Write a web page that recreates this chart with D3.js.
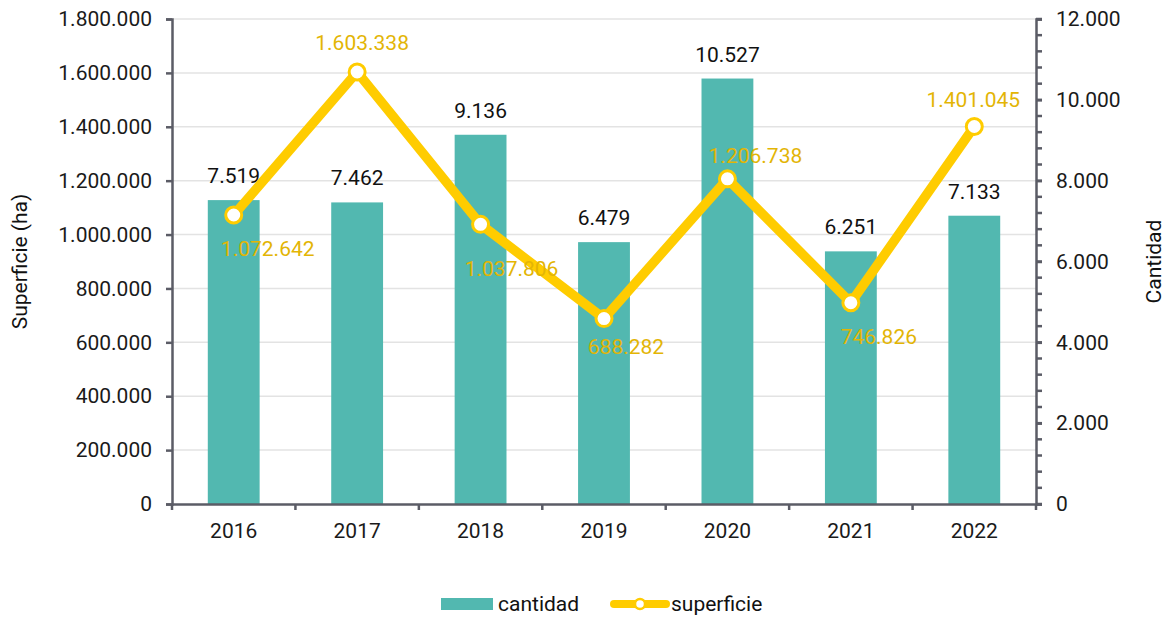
<!DOCTYPE html>
<html>
<head>
<meta charset="utf-8">
<script src="https://cdn.jsdelivr.net/npm/d3@7"></script>
<style>
  body { margin: 0; background: #fff; font-family: Roboto, "Noto Sans", sans-serif; }
  .axis text { font-size: 21px; fill: #1a1a1a; font-family: Roboto, sans-serif; }
  .axis path, .axis line { stroke: #5b5c66; stroke-width: 2.5px; }
  .grid line { stroke: #e3e3e3; stroke-width: 1.5px; }
  .label { font-size: 21px; font-family: Roboto, sans-serif; }
</style>
</head>
<body>
<div id="chart"></div>
<script>
// data
var years = ["2016", "2017", "2018", "2019", "2020", "2021", "2022"];
var cantidad = [7519, 7462, 9136, 6479, 10527, 6251, 7133];
var superficie = [1072642, 1603338, 1037806, 688282, 1206738, 746826, 1401045];
var leftTicks = [0, 200000, 400000, 600000, 800000, 1000000, 1200000, 1400000, 1600000, 1800000];
var rightTicks = [0, 2000, 4000, 6000, 8000, 10000, 12000];

// label nudges for the superficie labels (dx, dy from the point)
var labelNudge = [[34, 33], [5, -30], [31, 44], [22, 28], [28, -23], [28, 34], [-1, -27]];

var margin = {top: 19, right: 138, bottom: 117, left: 172};
var width = 1174 - margin.left - margin.right;
var height = 621 - margin.top - margin.bottom;

var barColour = "#52b8b0";
var lineColour = "#ffcc00";
var lineLabelColour = "#e3b505";

var svg = d3.select("#chart")
            .append("svg")
              .attr("width", 1174)
              .attr("height", 621);

var chart = svg.append("g")
               .attr("transform", "translate(" + margin.left + "," + margin.top + ")");

// number format with dots as thousands separator
var fmt = function(d) {
  return d3.format(",")(d).replace(/,/g, ".");
};

// scales
var xScale = d3.scaleBand()
               .domain(years)
               .range([0, width])
               .paddingInner(0.58)
               .paddingOuter(0.29);

var yLeft = d3.scaleLinear().domain([0, 1800000]).range([height, 0]);
var yRight = d3.scaleLinear().domain([0, 12000]).range([height, 0]);

// grid
chart.append("g")
      .attr("class", "grid")
     .selectAll("line")
      .data(leftTicks.slice(1))
      .enter()
     .append("line")
      .attr("x1", 0)
      .attr("x2", width)
      .attr("y1", function(d) { return yLeft(d); })
      .attr("y2", function(d) { return yLeft(d); });

// bars
chart.selectAll(".bar")
      .data(cantidad)
      .enter()
     .append("rect")
      .attr("class", "bar")
      .attr("x", function(d, i) { return xScale(years[i]); })
      .attr("y", function(d) { return yRight(d); })
      .attr("width", xScale.bandwidth())
      .attr("height", function(d) { return height - yRight(d); })
      .attr("fill", barColour);

chart.selectAll(".bar-label")
      .data(cantidad)
      .enter()
     .append("text")
      .attr("class", "label bar-label")
      .attr("x", function(d, i) { return xScale(years[i]) + xScale.bandwidth() / 2; })
      .attr("y", function(d) { return yRight(d) - 17; })
      .attr("text-anchor", "middle")
      .attr("fill", "#111")
      .text(fmt);

// axes
var xAxis = d3.axisBottom(xScale).tickSize(0).tickSizeOuter(0);
var xg = chart.append("g")
      .attr("class", "axis x-axis")
      .attr("transform", "translate(0," + height + ")")
      .call(xAxis);
xg.selectAll("text").attr("y", 34).attr("dy", 0);
// tick marks between categories
xg.selectAll(".sep")
    .data(d3.range(years.length + 1))
    .enter()
   .append("line")
    .attr("class", "sep")
    .attr("x1", function(d) { return d * width / years.length; })
    .attr("x2", function(d) { return d * width / years.length; })
    .attr("y1", 0)
    .attr("y2", 6);

chart.append("g")
      .attr("class", "axis y-axis")
      .call(d3.axisLeft(yLeft).tickValues(leftTicks).tickFormat(fmt).tickSize(6).tickSizeOuter(6).tickPadding(14));

var rightMinor = d3.range(0, 12001, 400);
var rg = chart.append("g")
      .attr("class", "axis y-axis-right")
      .attr("transform", "translate(" + width + ",0)")
      .call(d3.axisRight(yRight).tickValues(rightTicks).tickFormat(fmt).tickSize(6).tickSizeOuter(6).tickPadding(14));
rg.selectAll(".minor")
    .data(rightMinor)
    .enter()
   .append("line")
    .attr("class", "minor")
    .attr("x1", 0)
    .attr("x2", 6)
    .attr("y1", function(d) { return yRight(d); })
    .attr("y2", function(d) { return yRight(d); });

// axis titles
svg.append("text")
    .attr("class", "label")
    .attr("transform", "translate(27," + (margin.top + height / 2) + ") rotate(-90)")
    .attr("text-anchor", "middle")
    .attr("fill", "#111")
    .text("Superficie (ha)");

svg.append("text")
    .attr("class", "label")
    .attr("transform", "translate(1161," + (margin.top + height / 2) + ") rotate(-90)")
    .attr("text-anchor", "middle")
    .attr("fill", "#111")
    .text("Cantidad");

// line
var cx = function(i) { return xScale(years[i]) + xScale.bandwidth() / 2; };
var line = d3.line()
             .x(function(d, i) { return cx(i); })
             .y(function(d) { return yLeft(d); });

chart.append("path")
      .datum(superficie)
      .attr("d", line)
      .attr("fill", "none")
      .attr("stroke", lineColour)
      .attr("stroke-width", 9.5)
      .attr("stroke-linejoin", "round");

chart.selectAll(".point")
      .data(superficie)
      .enter()
     .append("circle")
      .attr("class", "point")
      .attr("cx", function(d, i) { return cx(i); })
      .attr("cy", function(d) { return yLeft(d); })
      .attr("r", 8)
      .attr("fill", "#fff")
      .attr("stroke", lineColour)
      .attr("stroke-width", 3);

chart.selectAll(".line-label")
      .data(superficie)
      .enter()
     .append("text")
      .attr("class", "label line-label")
      .attr("x", function(d, i) { return cx(i) + labelNudge[i][0]; })
      .attr("y", function(d, i) { return yLeft(d) + labelNudge[i][1]; })
      .attr("dy", "0.36em")
      .attr("text-anchor", "middle")
      .attr("fill", lineLabelColour)
      .text(fmt);

// legend
var legend = svg.append("g").attr("class", "legend");
legend.append("rect")
      .attr("x", 441).attr("y", 598)
      .attr("width", 52).attr("height", 12)
      .attr("fill", barColour);
legend.append("text")
      .attr("class", "label")
      .attr("x", 498).attr("y", 611)
      .attr("fill", "#111")
      .text("cantidad");
legend.append("line")
      .attr("x1", 614).attr("x2", 666)
      .attr("y1", 604).attr("y2", 604)
      .attr("stroke", lineColour)
      .attr("stroke-width", 8)
      .attr("stroke-linecap", "round");
legend.append("circle")
      .attr("cx", 640).attr("cy", 604).attr("r", 5)
      .attr("fill", "#fff")
      .attr("stroke", lineColour)
      .attr("stroke-width", 2.5);
legend.append("text")
      .attr("class", "label")
      .attr("x", 671).attr("y", 611)
      .attr("fill", "#111")
      .text("superficie");
</script>
</body>
</html>
